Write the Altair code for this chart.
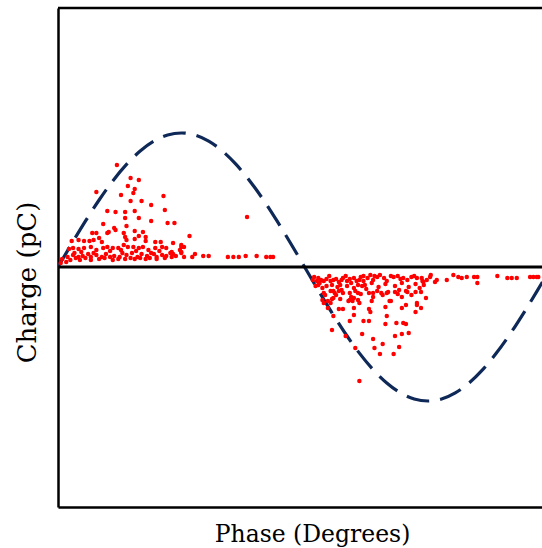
import altair as alt
import pandas as pd

# Reference voltage curve (dashed), phase in degrees, charge-scaled value
ref_phase = [0, 10, 20, 30, 40, 50, 60, 70, 80, 90, 100, 110, 120, 130, 140, 150, 160, 170, 180,
             190, 200, 210, 220, 230, 240, 250, 260, 270, 280, 290, 300, 310, 320, 330, 340, 350, 360]
ref_value = [0, 2.33, 4.58, 6.7, 8.61, 10.26, 11.6, 12.59, 13.2, 13.4, 13.2, 12.59, 11.6, 10.26, 8.61, 6.7, 4.58, 2.33, 0,
             -2.33, -4.58, -6.7, -8.61, -10.26, -11.6, -12.59, -13.2, -13.4, -13.2, -12.59, -11.6, -10.26, -8.61, -6.7, -4.58, -2.33, 0]

# Partial discharge pulses (phase deg, charge pC)
pos_spread = [(43,10.2),(53,8.9),(59,8.7),(51,8.1),(56,7.8),(55,7.4),(28,7.5),(46,7.2),(77,7.1),(53,6.6),(61,6.6),
              (68,6.2),(36,5.6),(42,5.5),(49,5.5),(56,5.6),(78,5.7),(49,4.9),(59,4.9),(68,4.6),(80,4.4),(85,4.4),
              (33,4.3),(50,4.1),(41,3.9),(37,3.5),(25,3.4),(28,3.4),(36,3.4),(42,3.7),(48,3.4),(56,3.6),(62,3.5),
              (59,3.1),(64,3.0),(10,2.6),(15,2.7),(19,2.6),(23,2.6),(50,2.7),(56,2.8),(64,2.6),(71,2.5),(84,2.4),
              (138,5.0),(96,3.1),(26,2.7),(30,2.9),(32,2.5),(49,3.0),(75,2.5),(90,2.2)]
pos_band = [(90,2.0),(92,2.0),(90,1.5),(82,1.4),(83,1.0),(92,1.0),(98,1.0),(100,1.3),(106,1.1),(110,1.1),(124,1.0),
            (128,1.0),(132,1.0),(137,1.1),(145,1.1),(152,1.0),(155,1.0),(157,1.0),
            (11,1.9),(15,1.8),(19,1.9),(24,2.0),(28,1.7),(33,1.9),(36,2.0),(40,1.9),(44,1.9),
            (7,1.0),(11,1.2),(15,1.0),(18,1.1),(22,1.3),(24,1.0),(28,1.2),(32,1.0),(35,1.3),(38,1.0),(41,1.1),(45,1.0),
            (9,0.7),(13,0.9),(16,0.7),(20,0.9),(24,0.7),(30,0.8),(34,0.9),(40,0.7),(44,0.8),
            (48,2.2),(51,2.0),(55,2.0),(59,1.9),(62,2.0),(66,1.7),(71,1.9),(76,2.0),(79,1.9),(83,1.5),(89,1.7),
            (47,1.4),(50,1.2),(54,1.4),(58,1.0),(61,1.3),(65,1.1),(68,1.4),(72,1.0),(76,1.2),(79,1.1),(84,1.3),(90,1.4),
            (49,0.8),(53,0.9),(56,0.8),(60,0.9),(64,0.8),(67,0.9),(72,0.8),(78,0.9),(2,0.4),(8,1.8),(6,0.5),
            (17,1.5),(26,1.4),(38,1.6),(46,1.7),(57,1.6),(70,1.3),(74,1.6),(86,1.1),(3,0.8),(12,1.4)]
neg_spread = [(194,-2.6),(201,-2.4),(207,-2.3),(214,-3.0),(219,-2.6),(225,-2.2),(230,-2.6),(236,-2.6),(240,-2.6),
              (246,-2.5),(249,-2.3),(255,-2.5),(261,-2.5),(264,-2.1),(203,-2.8),(208,-2.6),
              (193,-3.3),(194,-3.6),(200,-3.2),(199,-3.6),(213,-3.3),(215,-3.4),(220,-3.6),(230,-3.0),(242,-3.4),(251,-3.0),
              (205,-4.2),(208,-4.2),(197,-4.1),(216,-4.1),(227,-4.2),(228,-4.5),(239,-4.0),(251,-4.1),(262,-3.8),
              (261,-4.5),(265,-4.1),(201,-4.9),(216,-4.8),(213,-5.4),(223,-5.4),(227,-5.4),(240,-4.9),(239,-5.7),
              (247,-5.6),(252,-5.6),(254,-5.7),(200,-6.3),(222,-6.7),(210,-6.9),(246,-6.9),(251,-6.7),(256,-6.6),
              (230,-7.2),(217,-8.1),(237,-7.7),(231,-8.1),(249,-8.0),(235,-8.7),(245,-8.7),(220,-11.4),
              (197,-3.4),(201,-3.1),(206,-3.2),(212,-3.4),(216,-3.1),(219,-3.3),
              (229,-3.4),(243,-3.4),(254,-3.8),(262,-3.6),(268.6,-3.1)]
neg_band = [(186,-1.3),(189,-1.4),(190,-1.1),(191,-1.6),(192,-1.3),(194,-1.4),(196,-1.2),(199,-1.4),(201,-1.3),
            (203,-1.2),(205,-1.5),(207,-1.3),(208,-1.1),(211,-1.4),(213,-1.2),(216,-1.1),(218,-1.4),(220,-1.3),(223,-1.4),
            (188,-1.9),(190,-1.8),(193,-2.1),(196,-1.9),(200,-1.8),(204,-2.0),(206,-1.8),(211,-1.9),(216,-2.1),(219,-1.8),(222,-1.9),
            (195,-2.8),(199,-2.4),(202,-2.6),(205,-2.4),(213,-2.6),(217,-2.4),(221,-2.7),
            (223,-0.9),(226,-1.1),(228,-0.8),(230,-1.3),(233,-1.0),(235,-0.8),(238,-1.1),(240,-1.4),(245,-1.0),
            (248,-0.9),(252,-1.1),(255,-1.3),(258,-1.0),(262,-1.1),(266,-1.4),
            (224,-1.8),(229,-1.6),(234,-2.0),(239,-1.7),(246,-1.9),(251,-1.6),(256,-2.0),(261,-1.7),(267,-1.8),
            (227,-2.6),(233,-2.4),(237,-2.8),(241,-2.5),(248,-2.7),(254,-2.4),(258,-2.8),(265,-2.5),
            (187,-1.0),(198,-0.9),(210,-0.9),(214,-1.6),(221,-1.0),(231,-0.9),(243,-0.9),(250,-1.2),(260,-0.9)]
neg_tail = [(265.5,-1.1),(266.7,-1.5),(269.2,-1.3),(271.6,-1.0),(272.1,-0.8),(275.2,-1.5),(276.5,-1.3),(283.8,-1.3),
            (288.6,-0.8),(292.2,-1.0),(294.7,-1.1),(298.4,-1.0),(303.7,-1.0),(306.1,-1.0),(306.1,-1.6),(320.7,-0.9),
            (328,-1.1),(331.2,-1.1),(334.9,-1.1),(344.6,-1.0),(347,-1.0),(349.5,-1.0),(350.6,-1.0)]

X_DOMAIN = [0, 353.3]
Y_DOMAIN = [-24.0, 25.9]
W, H = 484, 499
FONT = "DejaVu Serif"

pts = pd.DataFrame(pos_spread + pos_band + neg_spread + neg_band + neg_tail, columns=["phase", "charge"])
ref = pd.DataFrame({"phase": ref_phase, "value": ref_value})
zero = pd.DataFrame({"y": [0]})

xs = alt.Scale(domain=X_DOMAIN, nice=False, zero=False)
ys = alt.Scale(domain=Y_DOMAIN, nice=False, zero=False)

x_axis = alt.Axis(title="Phase (Degrees)", labels=False, ticks=False, grid=False,
                  domainColor="black", domainWidth=2.5, titleFont=FONT, titleFontSize=23.5,
                  titleFontWeight="normal", titleColor="black", titleX=254, titleY=34,
                  titleAlign="center", titleBaseline="alphabetic")
y_axis = alt.Axis(title="Charge (pC)", labels=False, ticks=False, grid=False,
                  domainColor="black", domainWidth=2.5, titleFont=FONT, titleFontSize=26,
                  titleFontWeight="normal", titleColor="black", titleX=-31, titleY=274,
                  titleAlign="center", titleBaseline="middle", titleAngle=270)

curve = alt.Chart(ref).mark_line(color="#0e2857", strokeWidth=3.2, strokeDash=[23, 11],
                                 interpolate="monotone", clip=True).encode(
    x=alt.X("phase:Q", scale=xs, axis=x_axis),
    y=alt.Y("value:Q", scale=ys, axis=y_axis),
)

zero_line = alt.Chart(zero).mark_rule(color="black", strokeWidth=3).encode(
    y=alt.Y("y:Q", scale=ys),
)

top_line = alt.Chart(zero).mark_rule(color="black", strokeWidth=2.5).encode(
    x=alt.value(0), x2=alt.value(W), y=alt.value(0)
)

dots = alt.Chart(pts).mark_circle(color="#ff0000", opacity=1, size=20, clip=True).encode(
    x=alt.X("phase:Q", scale=xs),
    y=alt.Y("charge:Q", scale=ys),
)

chart = alt.layer(curve, zero_line, dots, top_line).properties(
    width=W, height=H,
    autosize=alt.AutoSizeParams(type="none"),
    padding={"left": 58, "top": 8, "right": 0, "bottom": 41},
).configure_view(stroke=None).configure(background="white")

chart.save("out.html", embed_options={"renderer": "svg", "actions": False})
